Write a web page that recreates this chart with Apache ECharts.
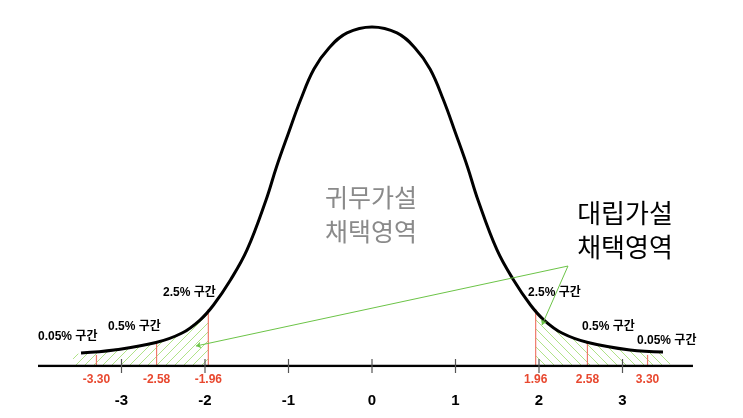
<!DOCTYPE html>
<html><head><meta charset="utf-8">
<script src="https://cdn.jsdelivr.net/npm/echarts@6/dist/echarts.min.js"></script>
<style>html,body{margin:0;padding:0;background:#fff}#c{width:743px;height:418px}</style>
</head><body><div id="c"></div>
<script>
// Curve: z position and height (density-like units)
const curveZ = [-3.485,-3.090,-2.587,-2.275,-2.060,-1.898,-1.695,-1.497,-1.269,-1.144,-1.000,-0.856,-0.695,-0.515,-0.299,0,0.299,0.515,0.695,0.856,1.000,1.144,1.269,1.497,1.695,1.898,2.060,2.275,2.587,3.090,3.485];
const curveD = [0.0153,0.0188,0.0276,0.0388,0.0541,0.0718,0.1012,0.1365,0.1953,0.2341,0.2741,0.3129,0.3494,0.3741,0.3918,0.3988,0.3918,0.3741,0.3494,0.3129,0.2741,0.2341,0.1953,0.1365,0.1012,0.0718,0.0541,0.0388,0.0276,0.0188,0.0165];

const tickValues = [-3,-2,-1,0,1,2,3];
const tickLabels = ['-3','-2','-1','0','1','2','3'];

const critValues = [-3.30,-2.58,-1.96,1.96,2.58,3.30];
const critLabels = ['-3.30','-2.58','-1.96','1.96','2.58','3.30'];
const critHeights = [0.013,0.027,0.067,0.067,0.028,0.013];

const hatchLeftOuter = [-3.58, 0.012];
const hatchRightOuter = [3.57, 0.012];
const axisLineEnds = [-4.0, 3.844];

const arrowFrom = [2.347, 0.1176];
const arrowToLeft = [-2.108, 0.0235];
const arrowToRight = [2.036, 0.0482];

const intervalLabels = ['0.05% 구간','0.5% 구간','2.5% 구간','2.5% 구간','0.5% 구간','0.05% 구간'];

const curve = curveZ.map((z,i)=>[z,curveD[i]]);
const hatchLeft = [hatchLeftOuter].concat(curve.filter(p=>p[0]>hatchLeftOuter[0] && p[0]<critValues[2])).concat([[critValues[2],critHeights[2]]]);
const hatchRight = [[critValues[3],critHeights[3]]].concat(curve.filter(p=>p[0]>critValues[3] && p[0]<hatchRightOuter[0])).concat([hatchRightOuter]);

function hatch(dir){
  const c=document.createElement('canvas'); c.width=c.height=9;
  const g=c.getContext('2d'); g.strokeStyle='#b0e388'; g.lineWidth=1; g.beginPath();
  if(dir>0){ g.moveTo(0,9);g.lineTo(9,0); g.moveTo(-1,1);g.lineTo(1,-1); g.moveTo(8,10);g.lineTo(10,8); }
  else { g.moveTo(0,0);g.lineTo(9,9); g.moveTo(8,-1);g.lineTo(10,1); g.moveTo(-1,8);g.lineTo(1,10); }
  g.stroke(); return c;
}

const numFont = '"Liberation Sans", Arial, "Noto Sans CJK KR", sans-serif';
const krFont = '"Noto Sans CJK KR", sans-serif';

const chart = echarts.init(document.getElementById('c'), null, {renderer:'canvas'});
const labelPos = [[38,337],[108,327],[163,293],[528,293],[582,327],[637,341]];

chart.setOption({
  animation:false,
  backgroundColor:'#fff',
  grid:{left:4.6,right:3.6,top:26,bottom:52},
  xAxis:{type:'value',min:-4.4,max:4.4,show:false},
  yAxis:{type:'value',min:0,max:0.4,show:false},
  series:[
    {type:'line',data:hatchLeft,smooth:0.4,showSymbol:false,silent:true,z:1,
     lineStyle:{width:0},areaStyle:{color:{image:hatch(1),repeat:'repeat'},opacity:1}},
    {type:'line',data:hatchRight,smooth:0.4,showSymbol:false,silent:true,z:1,
     lineStyle:{width:0},areaStyle:{color:{image:hatch(-1),repeat:'repeat'},opacity:1}},
    {type:'custom',z:2,silent:true,data:critValues.map((v,i)=>[v,critHeights[i]]),
     renderItem:function(params,api){
       const i=params.dataIndex;
       const b=api.coord([api.value(0),0]); const t=api.coord([api.value(0),api.value(1)]);
       return {type:'group',children:[
         {type:'line',shape:{x1:b[0],y1:b[1],x2:t[0],y2:t[1]},style:{stroke:'#f07a6a',lineWidth:1.2}},
         {type:'text',style:{x:b[0],y:b[1]+14,text:critLabels[i],fill:'#e8482f',font:'bold 12px '+numFont,textAlign:'center',textVerticalAlign:'middle'}}
       ]};
     }},
    {type:'line',data:curve,smooth:0.4,showSymbol:false,silent:true,z:5,
     lineStyle:{color:'#000',width:3}},
    {type:'line',data:[[axisLineEnds[0],0],[axisLineEnds[1],0]],showSymbol:false,silent:true,z:4,
     lineStyle:{color:'#000',width:2.5}},
    {type:'custom',z:6,silent:true,data:tickValues.map(v=>[v]),
     renderItem:function(params,api){
       const p=api.coord([api.value(0),0]);
       return {type:'group',children:[
         {type:'line',shape:{x1:p[0],y1:p[1]-7,x2:p[0],y2:p[1]+7},style:{stroke:'#555',lineWidth:1.2}},
         {type:'text',style:{x:p[0],y:p[1]+35,text:tickLabels[params.dataIndex],fill:'#000',font:'bold 15px '+numFont,textAlign:'center',textVerticalAlign:'middle'}}
       ]};
     }},
    {type:'lines',coordinateSystem:'cartesian2d',z:7,silent:true,
     symbol:['none','arrow'],symbolSize:[0,5],
     lineStyle:{color:'#6cc447',width:1,opacity:1},
     data:[{coords:[arrowFrom,arrowToLeft]},{coords:[arrowFrom,arrowToRight]}]}
  ],
  graphic:labelPos.map((p,i)=>({type:'text',left:p[0],top:p[1]-6,z:10,
      style:{text:intervalLabels[i],fill:'#000',font:'bold 12px '+numFont}}))
    .concat([
      {type:'text',z:10,
       style:{x:371,y:180,text:'귀무가설\n채택영역',fill:'#8a8a8a',font:'25px '+krFont,lineHeight:34,textAlign:'center',textVerticalAlign:'top'}},
      {type:'text',z:10,
       style:{x:625,y:196,text:'대립가설\n채택영역',fill:'#000',font:'26px '+krFont,lineHeight:34,textAlign:'center',textVerticalAlign:'top'}}
    ])
});
</script></body></html>
